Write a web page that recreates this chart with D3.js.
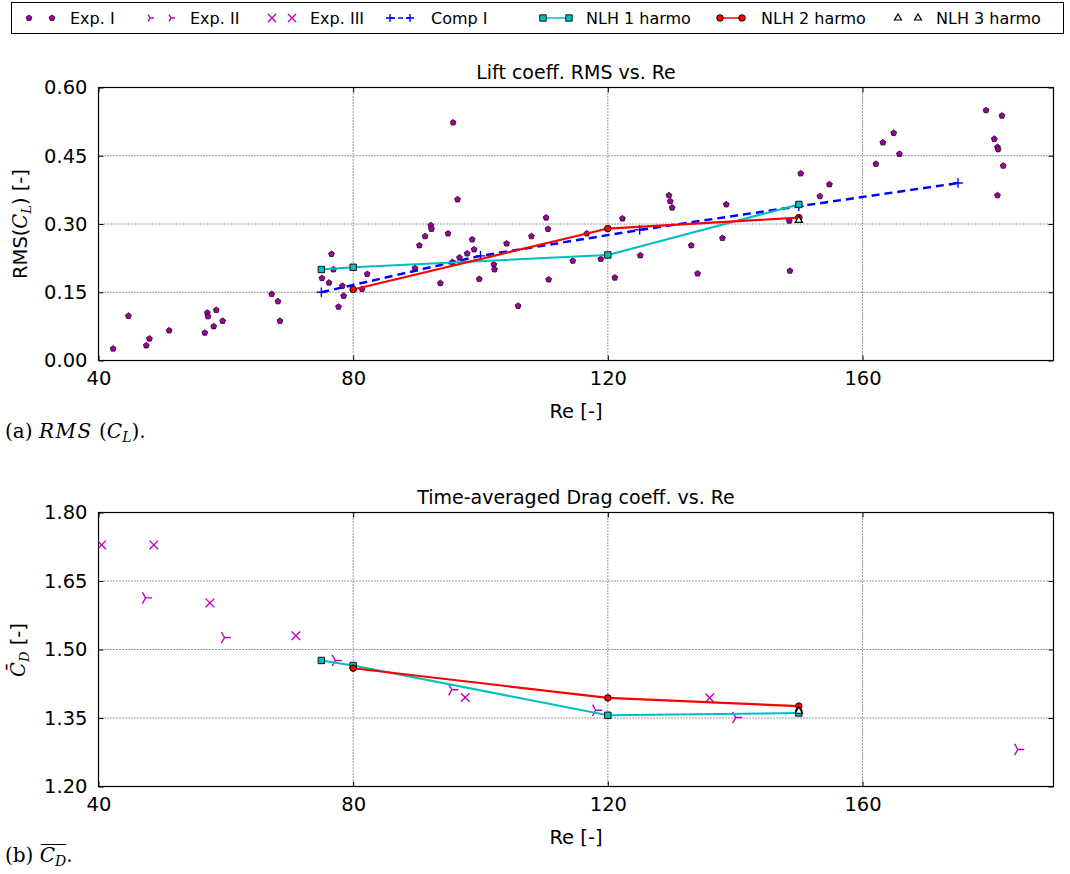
<!DOCTYPE html>
<html>
<head>
<meta charset="utf-8">
<script src="https://cdn.jsdelivr.net/npm/d3@7"></script>
<style>
  html, body { margin: 0; padding: 0; background: #fff; }
  svg { display: block; font-family: "DejaVu Sans", sans-serif; }
</style>
</head>
<body>
<script>
// ---- Lift coefficient RMS (top panel) ----
const exp1Re = [42.3, 44.7, 47.5, 48.0, 51.1, 56.7, 57.1, 57.2, 58.1, 58.5, 59.5, 67.2, 68.2, 68.5,
  76.6, 76.9, 75.1, 76.2, 78.3, 78.5, 77.7, 82.2, 81.4, 95.7, 96.4, 92.2, 92.3, 91.3, 90.4, 94.9,
  89.7, 93.7, 95.6, 96.7, 97.9, 98.7, 99.0, 99.8, 102.1, 102.2, 104.1, 105.9, 108.0, 110.3, 110.6,
  110.7, 114.5, 116.7, 118.9, 121.1, 122.3, 125.1, 129.6, 129.8, 130.1, 133.1, 134.1, 138.0, 138.6,
  150.3, 148.5, 148.6, 153.3, 154.8, 162.1, 163.2, 164.9, 165.8, 179.4, 181.9, 180.7, 181.2, 181.3,
  182.1, 181.2];
const exp1Rms = [0.026, 0.098, 0.033, 0.048, 0.066, 0.061, 0.105, 0.097, 0.075, 0.111, 0.087, 0.146, 0.130, 0.087,
  0.234, 0.200, 0.181, 0.171, 0.164, 0.142, 0.118, 0.190, 0.157, 0.523, 0.354, 0.297, 0.289, 0.273, 0.253, 0.279,
  0.203, 0.170, 0.216, 0.226, 0.235, 0.266, 0.244, 0.179, 0.211, 0.200, 0.257, 0.120, 0.273, 0.314, 0.289,
  0.178, 0.219, 0.279, 0.223, 0.182, 0.312, 0.231, 0.363, 0.350, 0.336, 0.253, 0.191, 0.269, 0.343,
  0.411, 0.307, 0.197, 0.361, 0.387, 0.432, 0.479, 0.500, 0.454, 0.550, 0.538, 0.487, 0.469, 0.464,
  0.428, 0.363];
const compRe = [75, 100, 125, 150, 175];
const compRms = [0.150, 0.230, 0.287, 0.339, 0.390];
const nlh1ReLift = [75, 80, 120, 150];
const nlh1Rms = [0.200, 0.205, 0.232, 0.343];
const nlh2ReLift = [80, 120, 150];
const nlh2Rms = [0.156, 0.290, 0.314];
const nlh3ReLift = [150];
const nlh3Rms = [0.308];

// ---- Time-averaged drag coefficient (bottom panel) ----
const exp2Re = [47.4, 59.8, 77.2, 95.5, 118.1, 140.1, 184.4];
const exp2Cd = [1.613, 1.526, 1.476, 1.412, 1.367, 1.351, 1.281];
const exp3Re = [40.5, 48.7, 57.5, 71.0, 97.6, 136.0];
const exp3Cd = [1.729, 1.729, 1.602, 1.530, 1.395, 1.394];
const nlh1ReDrag = [75, 80, 120, 150];
const nlh1Cd = [1.476, 1.465, 1.356, 1.361];
const nlh2ReDrag = [80, 120, 150];
const nlh2Cd = [1.459, 1.394, 1.376];
const nlh3ReDrag = [150];
const nlh3Cd = [1.365];

// ---- axes ticks ----
const reTicks = [40, 80, 120, 160];
const rmsTicks = [0.00, 0.15, 0.30, 0.45, 0.60];
const cdTicks = [1.20, 1.35, 1.50, 1.65, 1.80];

const legendLabels = ["Exp. I", "Exp. II", "Exp. III", "Comp I", "NLH 1 harmo", "NLH 2 harmo", "NLH 3 harmo"];

// ---- marker shapes (size = radius squared) ----
const pentagon = { draw(ctx, size) { const r = Math.sqrt(size);
  for (let i = 0; i < 5; i++) { const a = -Math.PI / 2 + i * 2 * Math.PI / 5;
    const px = r * Math.cos(a), py = r * Math.sin(a); i ? ctx.lineTo(px, py) : ctx.moveTo(px, py); }
  ctx.closePath(); } };
const triRight = { draw(ctx, size) { const r = Math.sqrt(size);
  ctx.moveTo(0, 0); ctx.lineTo(r, 0);
  ctx.moveTo(0, 0); ctx.lineTo(-r / 2, -r * 0.866);
  ctx.moveTo(0, 0); ctx.lineTo(-r / 2, r * 0.866); } };
const xMark = { draw(ctx, size) { const r = Math.sqrt(size);
  ctx.moveTo(-r, -r); ctx.lineTo(r, r); ctx.moveTo(-r, r); ctx.lineTo(r, -r); } };
const plusMark = { draw(ctx, size) { const r = Math.sqrt(size);
  ctx.moveTo(-r, 0); ctx.lineTo(r, 0); ctx.moveTo(0, -r); ctx.lineTo(0, r); } };
const square = { draw(ctx, size) { const r = Math.sqrt(size); ctx.rect(-r, -r, 2 * r, 2 * r); } };
const circle = { draw(ctx, size) { const r = Math.sqrt(size); ctx.moveTo(r, 0); ctx.arc(0, 0, r, 0, 2 * Math.PI); } };
const triUp = { draw(ctx, size) { const r = Math.sqrt(size);
  ctx.moveTo(0, -r); ctx.lineTo(r * 0.866, r / 2); ctx.lineTo(-r * 0.866, r / 2); ctx.closePath(); } };

const styles = {
  exp1: { type: pentagon, r: 3.1, fill: "#a000a0", stroke: "#000", sw: 0.7 },
  exp2: { type: triRight, r: 6.5, fill: "none", stroke: "#bf00bf", sw: 1.4 },
  exp3: { type: xMark, r: 4.3, fill: "none", stroke: "#bf00bf", sw: 1.4 },
  comp: { type: plusMark, r: 4.8, fill: "none", stroke: "#0000ff", sw: 1.4 },
  nlh1: { type: square, r: 3.2, fill: "#00bfbf", stroke: "#000", sw: 0.9 },
  nlh2: { type: circle, r: 3.3, fill: "#ff0000", stroke: "#000", sw: 0.9 },
  nlh3: { type: triUp, r: 4.2, fill: "#fff", stroke: "#000", sw: 1.2 }
};

const W = 1070, H = 874;
const svg = d3.select("body").append("svg").attr("width", W).attr("height", H);

function drawMarkers(g, xs, ys, x, y, st) {
  const sym = d3.symbol().type(st.type).size(st.r * st.r);
  g.selectAll(null).data(xs.map((v, i) => [v, ys[i]])).join("path")
    .attr("d", sym)
    .attr("transform", d => `translate(${x(d[0])},${y(d[1])})`)
    .attr("fill", st.fill).attr("stroke", st.stroke).attr("stroke-width", st.sw);
}
function drawLine(g, xs, ys, x, y, color, width, dash) {
  const line = d3.line().x(d => x(d[0])).y(d => y(d[1]));
  g.append("path").datum(xs.map((v, i) => [v, ys[i]]))
    .attr("d", line).attr("fill", "none").attr("stroke", color)
    .attr("stroke-width", width).attr("stroke-dasharray", dash || null)
    .attr("stroke-linejoin", "round");
}

function panel(top, bottom, yDomain, yTicks, title) {
  const left = 98.5, right = 1053.5;
  const x = d3.scaleLinear().domain([40, 190]).range([left, right]);
  const y = d3.scaleLinear().domain(yDomain).range([bottom, top]);
  const g = svg.append("g");

  // dotted grid
  const grid = g.append("g").attr("stroke", "#000").attr("stroke-width", 0.8).attr("stroke-dasharray", "1,2");
  reTicks.slice(1).forEach(t => grid.append("line").attr("x1", x(t)).attr("x2", x(t)).attr("y1", top).attr("y2", bottom));
  yTicks.slice(1, -1).forEach(t => grid.append("line").attr("x1", left).attr("x2", right).attr("y1", y(t)).attr("y2", y(t)));

  // inward ticks on all four sides with labels on left and bottom
  const fmt = d3.format(".2f");
  const axB = g.append("g").attr("transform", `translate(0,${bottom})`)
    .call(d3.axisBottom(x).tickValues(reTicks).tickSize(-5).tickPadding(11).tickFormat(d3.format("d")));
  const axT = g.append("g").attr("transform", `translate(0,${top})`)
    .call(d3.axisTop(x).tickValues(reTicks).tickSize(-5).tickFormat(""));
  const axL = g.append("g").attr("transform", `translate(${left},0)`)
    .call(d3.axisLeft(y).tickValues(yTicks).tickSize(-5).tickPadding(11).tickFormat(fmt));
  const axR = g.append("g").attr("transform", `translate(${right},0)`)
    .call(d3.axisRight(y).tickValues(yTicks).tickSize(-5).tickFormat(""));
  [axB, axT, axL, axR].forEach(a => {
    a.select(".domain").remove();
    a.selectAll("line").attr("stroke", "#000").attr("stroke-width", 1);
    a.selectAll("text").attr("fill", "#000").attr("font-size", 19.5).attr("font-family", "DejaVu Sans");
  });

  g.append("rect").attr("x", left).attr("y", top).attr("width", right - left).attr("height", bottom - top)
    .attr("fill", "none").attr("stroke", "#000").attr("stroke-width", 1.2);

  g.append("text").attr("x", (left + right) / 2).attr("y", top - 9).attr("text-anchor", "middle")
    .attr("font-size", 19).text(title);
  g.append("text").attr("x", (left + right) / 2).attr("y", bottom + 57).attr("text-anchor", "middle")
    .attr("font-size", 19.5).text("Re [-]");

  const clip = "clip" + Math.round(top);
  svg.append("clipPath").attr("id", clip).append("rect")
    .attr("x", left).attr("y", top).attr("width", right - left).attr("height", bottom - top);
  const plot = g.append("g").attr("clip-path", `url(#${clip})`);
  return { x, y, plot };
}

// ---- top panel ----
const P1 = panel(87.5, 360.5, [0, 0.6], rmsTicks, "Lift coeff. RMS vs. Re");
drawMarkers(P1.plot, exp1Re, exp1Rms, P1.x, P1.y, styles.exp1);
drawLine(P1.plot, compRe, compRms, P1.x, P1.y, "#0000ff", 2.5, "8,5");
drawMarkers(P1.plot, compRe, compRms, P1.x, P1.y, styles.comp);
drawLine(P1.plot, nlh1ReLift, nlh1Rms, P1.x, P1.y, "#00bfbf", 2);
drawMarkers(P1.plot, nlh1ReLift, nlh1Rms, P1.x, P1.y, styles.nlh1);
drawLine(P1.plot, nlh2ReLift, nlh2Rms, P1.x, P1.y, "#ff0000", 2.2);
drawMarkers(P1.plot, nlh2ReLift, nlh2Rms, P1.x, P1.y, styles.nlh2);
drawMarkers(P1.plot, nlh3ReLift, nlh3Rms, P1.x, P1.y, styles.nlh3);

// ---- bottom panel ----
const P2 = panel(512.5, 786.5, [1.2, 1.8], cdTicks, "Time-averaged Drag coeff. vs. Re");
drawMarkers(P2.plot, exp2Re, exp2Cd, P2.x, P2.y, styles.exp2);
drawMarkers(P2.plot, exp3Re, exp3Cd, P2.x, P2.y, styles.exp3);
drawLine(P2.plot, nlh1ReDrag, nlh1Cd, P2.x, P2.y, "#00bfbf", 2);
drawMarkers(P2.plot, nlh1ReDrag, nlh1Cd, P2.x, P2.y, styles.nlh1);
drawLine(P2.plot, nlh2ReDrag, nlh2Cd, P2.x, P2.y, "#ff0000", 2.2);
drawMarkers(P2.plot, nlh2ReDrag, nlh2Cd, P2.x, P2.y, styles.nlh2);
drawMarkers(P2.plot, nlh3ReDrag, nlh3Cd, P2.x, P2.y, styles.nlh3);

// ---- axis titles ----
const yl1 = svg.append("text").attr("transform", "translate(27,224) rotate(-90)")
  .attr("text-anchor", "middle").attr("font-size", 19.5);
yl1.append("tspan").text("RMS(");
yl1.append("tspan").attr("font-family", "DejaVu Serif").attr("font-style", "italic").text("C");
yl1.append("tspan").attr("font-family", "DejaVu Serif").attr("font-style", "italic")
  .attr("font-size", 13).attr("dy", 4).text("L");
yl1.append("tspan").attr("dy", -4).text(") [-]");

const yl2 = svg.append("text").attr("transform", "translate(25,650) rotate(-90)")
  .attr("text-anchor", "middle").attr("font-size", 19.5);
yl2.append("tspan").attr("font-family", "DejaVu Serif").attr("font-style", "italic").text("C\u0304");
yl2.append("tspan").attr("font-family", "DejaVu Serif").attr("font-style", "italic")
  .attr("font-size", 13).attr("dy", 4).text("D");
yl2.append("tspan").attr("dy", -4).text(" [-]");

// ---- sub-figure captions ----
const capFont = "DejaVu Serif";
const capA = svg.append("text").attr("x", 5).attr("y", 438).attr("font-family", capFont).attr("font-size", 20);
capA.append("tspan").text("(a) ");
capA.append("tspan").attr("font-style", "italic").attr("letter-spacing", 1.5).text("RMS");
capA.append("tspan").text(" (");
capA.append("tspan").attr("font-style", "italic").text("C");
capA.append("tspan").attr("font-style", "italic").attr("font-size", 14).attr("dy", 4).text("L");
capA.append("tspan").attr("dy", -4).text(").");

const capB = svg.append("text").attr("x", 5).attr("y", 862).attr("font-family", capFont).attr("font-size", 20);
capB.append("tspan").text("(b) ");
capB.append("tspan").attr("font-style", "italic").text("C");
capB.append("tspan").attr("font-style", "italic").attr("font-size", 14).attr("dy", 4).text("D");
capB.append("tspan").attr("dy", -4).text(".");
// overline spanning C and its subscript
{
  const n = capB.node();
  const eC = n.getExtentOfChar(4), eD = n.getExtentOfChar(5);
  svg.append("line").attr("x1", eC.x + 1).attr("x2", eD.x + eD.width)
    .attr("y1", eC.y + 1.5).attr("y2", eC.y + 1.5).attr("stroke", "#000").attr("stroke-width", 1);
}

// ---- legend ----
const lg = svg.append("g");
lg.append("rect").attr("x", 11.5).attr("y", 2.5).attr("width", 1052).attr("height", 31)
  .attr("fill", "#fff").attr("stroke", "#000").attr("stroke-width", 1);
const legendItems = [
  { st: styles.exp1, m: [29, 52], tx: 70 },
  { st: styles.exp2, m: [150, 171], tx: 190 },
  { st: styles.exp3, m: [272, 292], tx: 310 },
  { st: styles.comp, m: [390, 410], tx: 431, line: "#0000ff", dash: "5,3", lw: 1.5 },
  { st: styles.nlh1, m: [543, 569], tx: 586, line: "#00bfbf", lw: 1.5 },
  { st: styles.nlh2, m: [720, 742], tx: 761, line: "#ff0000", lw: 1.5 },
  { st: styles.nlh3, m: [898, 918], tx: 936 }
];
const ly = 18;
const lx = d3.scaleIdentity();
legendItems.forEach((it, i) => {
  if (it.line) lg.append("line").attr("x1", it.m[0]).attr("x2", it.m[1]).attr("y1", ly).attr("y2", ly)
    .attr("stroke", it.line).attr("stroke-width", it.lw).attr("stroke-dasharray", it.dash || null);
  const st = Object.assign({}, it.st, { r: Math.min(it.st.r, 4) });
  drawMarkers(lg, it.m, [ly, ly], lx, lx, st);
  lg.append("text").attr("x", it.tx).attr("y", ly + 6).attr("font-size", 16).text(legendLabels[i]);
});
</script>
</body>
</html>
